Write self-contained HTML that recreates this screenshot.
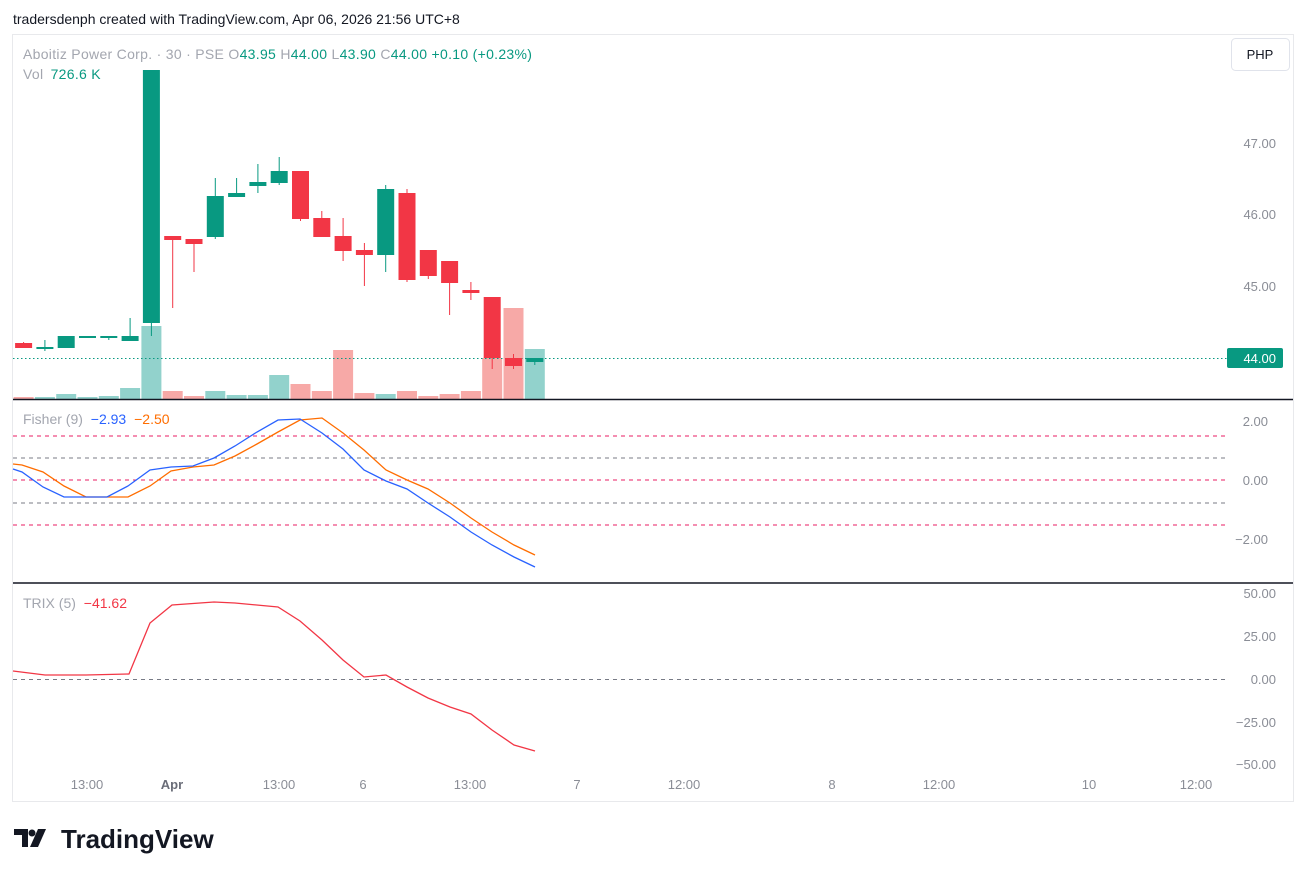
<!DOCTYPE html>
<html><head><meta charset="utf-8"><style>
body{margin:0;background:#fff;width:1307px;height:877px;overflow:hidden;font-family:"Liberation Sans",sans-serif}
svg text{font-family:"Liberation Sans",sans-serif}
</style></head><body>
<svg width="1307" height="877" viewBox="0 0 1307 877" xmlns="http://www.w3.org/2000/svg">
<rect width="1307" height="877" fill="#fff"/>
<text x="13" y="24" font-size="14" fill="#131722">tradersdenph created with TradingView.com, Apr 06, 2026 21:56 UTC+8</text>
<rect x="12.5" y="34.5" width="1281" height="767" fill="none" stroke="#e8e9ec"/>
<!-- header -->
<text x="23" y="59" font-size="14" letter-spacing="0.3" fill="#a3a6af">Aboitiz Power Corp. · 30 · PSE  <tspan fill="#a3a6af">O</tspan><tspan fill="#089981">43.95</tspan>  <tspan>H</tspan><tspan fill="#089981">44.00</tspan>  <tspan>L</tspan><tspan fill="#089981">43.90</tspan>  <tspan>C</tspan><tspan fill="#089981">44.00</tspan>  <tspan fill="#089981">+0.10 (+0.23%)</tspan></text>
<text x="23" y="79" font-size="14" letter-spacing="0.3" fill="#a3a6af">Vol  <tspan fill="#089981" dx="3">726.6 K</tspan></text>
<rect x="1231.5" y="38.5" width="58" height="32" rx="4" fill="#fff" stroke="#e0e3eb"/>
<text x="1260" y="59" font-size="13" fill="#131722" text-anchor="middle">PHP</text>
<!-- price axis -->
<g font-size="13" fill="#8a8d96" text-anchor="end">
<text x="1276" y="148">47.00</text><text x="1276" y="219">46.00</text><text x="1276" y="291">45.00</text>
</g>
<rect x="1227" y="348" width="56" height="20" rx="2" fill="#089981"/>
<text x="1276" y="363" font-size="13" fill="#fff" text-anchor="end">44.00</text>
<g id="vol"></g>
<line x1="13" y1="358.5" x2="1227" y2="358.5" stroke="#089981" stroke-dasharray="1.5,2.5"/>
<g id="candles"></g>
<line x1="13" y1="399.5" x2="1293" y2="399.5" stroke="#131722" stroke-width="1.5"/>
<!-- fisher -->
<text x="23" y="424" font-size="14" fill="#a3a6af">Fisher (9) <tspan fill="#2962ff" dx="4">−2.93</tspan> <tspan fill="#ff6d00" dx="4">−2.50</tspan></text>
<g stroke-dasharray="4,4" stroke-width="1">
<line x1="13" y1="436" x2="1227" y2="436" stroke="#e91e63"/>
<line x1="13" y1="458" x2="1227" y2="458" stroke="#787b86"/>
<line x1="13" y1="480" x2="1227" y2="480" stroke="#e91e63"/>
<line x1="13" y1="503" x2="1227" y2="503" stroke="#787b86"/>
<line x1="13" y1="525" x2="1227" y2="525" stroke="#e91e63"/>
</g>
<polyline fill="none" stroke="#ff6d00" stroke-width="1.3" points="13,464 22,465 43,472 64,486 86,497 107,497 128,497 150,486 171,471 193,467 214,465 235,456 257,444 278,432 300,420 322,418 343,433 364,450 386,470 407,480 428,489 450,503 471,518 492,532 514,545 535,555"/>
<polyline fill="none" stroke="#2962ff" stroke-width="1.3" points="13,469 22,472 43,487 64,497 86,497 107,497 128,486 150,470 171,467 193,466 214,458 235,446 257,432 278,420 300,419 322,433 343,449 364,470 386,481 407,489 428,503 450,517 471,532 492,545 514,557 535,567"/>
<g font-size="13" fill="#8a8d96" text-anchor="end">
<text x="1268" y="426">2.00</text><text x="1268" y="485">0.00</text><text x="1268" y="544">−2.00</text>
</g>
<line x1="13" y1="583" x2="1293" y2="583" stroke="#131722" stroke-width="1.5"/>
<!-- trix -->
<text x="23" y="608" font-size="14" fill="#a3a6af">TRIX (5) <tspan fill="#f23645" dx="4">−41.62</tspan></text>
<line x1="13" y1="679.5" x2="1227" y2="679.5" stroke="#787b86" stroke-dasharray="4,4"/>
<polyline fill="none" stroke="#f23645" stroke-width="1.3" points="13,671 45,675 86,675 129,674 150,623 172,605 214,602 235,603 278,607 300,621 322,640 343,660 364,677 386,675 407,687 428,698 450,707 471,714 492,730 514,745 535,751"/>
<g font-size="13" fill="#8a8d96" text-anchor="end">
<text x="1276" y="598">50.00</text><text x="1276" y="641">25.00</text><text x="1276" y="684">0.00</text><text x="1276" y="727">−25.00</text><text x="1276" y="769">−50.00</text>
</g>
<rect x="14" y="770" width="1212" height="30" fill="#fff"/>
<g font-size="13" fill="#8a8d96" text-anchor="middle">
<text x="87" y="789">13:00</text><text x="172" y="789" fill="#6a6d78" font-weight="bold">Apr</text><text x="279" y="789">13:00</text><text x="363" y="789">6</text><text x="470" y="789">13:00</text><text x="577" y="789">7</text><text x="684" y="789">12:00</text><text x="832" y="789">8</text><text x="939" y="789">12:00</text><text x="1089" y="789">10</text><text x="1196" y="789">12:00</text>
</g>
<g fill="#131722">
<path d="M14 829h14v18h-6v-12h-8z"/><circle cx="32" cy="833" r="3.5"/><path d="M38 829h8l-8 18h-8z"/>
</g>
<text x="61" y="848" font-size="26" font-weight="bold" fill="#131722">TradingView</text>
</svg>
<script>
const G='#089981',R='#f23645',GV='#92d2cc',RV='#f7a9a7';
const c=[[343,348,343,342,'r'],[347,348,340,351,'g'],[336,348,336,348,'g'],[336,337,336,337,'g'],[336,337,336,340,'g'],[336,341,318,341,'g'],[70,323,70,336,'g'],[236,240,236,308,'r'],[239,244,239,272,'r'],[196,237,178,239,'g'],[193,197,178,197,'g'],[182,186,164,193,'g'],[171,183,157,185,'g'],[171,219,171,221,'r'],[218,237,211,237,'r'],[236,251,218,261,'r'],[250,255,243,286,'r'],[189,255,185,272,'g'],[193,280,189,282,'r'],[250,276,250,279,'r'],[261,283,261,315,'r'],[290,293,282,300,'r'],[297,358,297,369,'r'],[358,366,354,369,'r'],[358,362,358,365,'g']];
const v=[397,397,394,397,396,388,326,391,396,391,395,395,375,384,391,350,393,394,391,396,394,391,358,308,349];
let sv='',sc='';
c.forEach((k,i)=>{const x=23.6+21.3*i;const col=k[4]=='g'?G:R;
sv+=`<rect x="${x-10}" y="${v[i]}" width="20" height="${399-v[i]}" fill="${k[4]=='g'?GV:RV}"/>`;
sc+=`<line x1="${x}" x2="${x}" y1="${k[2]}" y2="${k[3]}" stroke="${col}" stroke-width="1"/><rect x="${x-8.5}" y="${k[0]}" width="17" height="${Math.max(2,k[1]-k[0])}" fill="${col}"/>`;});
document.getElementById('vol').innerHTML=sv;document.getElementById('candles').innerHTML=sc;
</script>
</body></html>
